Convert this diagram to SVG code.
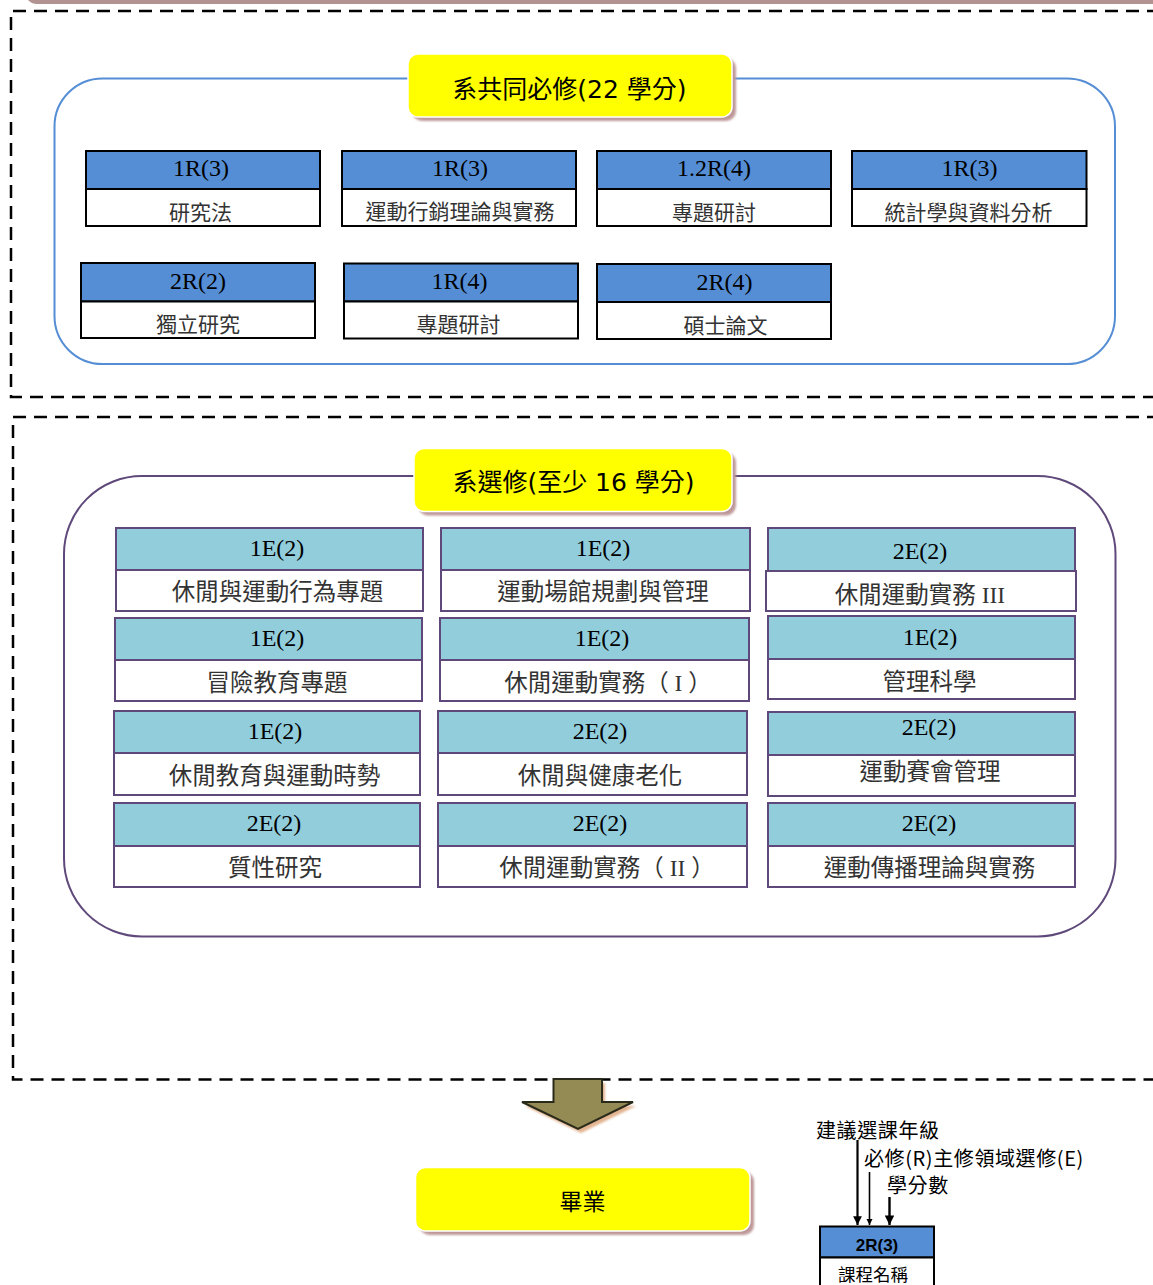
<svg xmlns="http://www.w3.org/2000/svg" width="1153" height="1285" viewBox="0 0 1153 1285">
<defs>
<style>
.dash{fill:none;stroke:#000;stroke-width:2.5;stroke-dasharray:13 8}
.hR{fill:#558ed5;stroke:#000;stroke-width:2}
.bR{fill:#fff;stroke:#000;stroke-width:2}
.hE{fill:#92cddc;stroke:#5f497a;stroke-width:2}
.bE{fill:#fff;stroke:#5f497a;stroke-width:2}
.code{font-family:"Liberation Serif","Noto Sans CJK TC",serif;font-size:24px;text-anchor:middle;fill:#000}
.nm{font-family:"Liberation Serif","Noto Sans CJK TC",serif;font-size:21px;text-anchor:middle;fill:#333}
.nmE{font-family:"Liberation Serif","Noto Sans CJK TC",serif;font-size:23.5px;text-anchor:middle;fill:#333}
.title{font-family:"DejaVu Sans","Noto Sans CJK TC",sans-serif;font-size:25px;text-anchor:middle;fill:#000}
.yel{fill:#ffff00;stroke:#fff;stroke-width:1.5}
.shd{fill:#bf9999}
.leg{font-family:"Noto Sans CJK TC","Noto Sans",sans-serif;font-size:20px;letter-spacing:0.6px;fill:#000}
</style>
<filter id="blur" x="-10%" y="-10%" width="120%" height="130%"><feGaussianBlur stdDeviation="1.2"/></filter>
<marker id="ah" viewBox="0 0 10 10" refX="10" refY="5" markerWidth="4" markerHeight="4" markerUnits="strokeWidth" orient="auto"><path d="M0,0 L10,5 L0,10 Z" fill="#000"/></marker>
</defs>
<rect width="1153" height="1285" fill="#fff"/>
<rect x="25" y="-50" width="1140" height="54" rx="12" fill="#b39292"/>

<g id="frames">
<path class="dash" d="M1160 11 H11 V397 H1160"/>
<path class="dash" d="M1160 417 H13 V1079.5 H1160"/>
<rect x="54.5" y="78.5" width="1060.5" height="285.5" rx="48" fill="none" stroke="#558ed5" stroke-width="2"/>
<rect x="64" y="476" width="1051.5" height="460.5" rx="78" fill="none" stroke="#5f497a" stroke-width="2"/>
</g>

<g id="title-required">
<rect class="shd" x="412" y="58" width="324" height="63" rx="10" filter="url(#blur)"/>
<rect class="yel" x="408" y="54" width="324" height="63" rx="10"/>
<text class="title" x="569.5" y="97.5">系共同必修(22 學分)</text>
</g>

<g id="r1">
<rect class="hR" x="86" y="151" width="234" height="38"/><rect class="bR" x="86" y="189" width="234" height="37"/>
<text class="code" x="201" y="176">1R(3)</text><text class="nm" x="200.5" y="220">研究法</text>
</g>
<g id="r2">
<rect class="hR" x="342" y="151" width="234" height="38"/><rect class="bR" x="342" y="189" width="234" height="37"/>
<text class="code" x="460" y="176">1R(3)</text><text class="nm" x="460" y="219">運動行銷理論與實務</text>
</g>
<g id="r3">
<rect class="hR" x="597" y="151" width="234" height="38"/><rect class="bR" x="597" y="189" width="234" height="37"/>
<text class="code" x="714" y="176">1.2R(4)</text><text class="nm" x="714" y="220">專題研討</text>
</g>
<g id="r4">
<rect class="hR" x="852" y="151" width="234.5" height="38"/><rect class="bR" x="852" y="189" width="234.5" height="37"/>
<text class="code" x="969.5" y="176">1R(3)</text><text class="nm" x="968.5" y="220">統計學與資料分析</text>
</g>
<g id="r5">
<rect class="hR" x="81" y="263" width="234" height="38.5"/><rect class="bR" x="81" y="301.5" width="234" height="36.5"/>
<text class="code" x="198" y="289">2R(2)</text><text class="nm" x="198" y="332">獨立研究</text>
</g>
<g id="r6">
<rect class="hR" x="344" y="263.5" width="234" height="38"/><rect class="bR" x="344" y="301.5" width="234" height="37"/>
<text class="code" x="459.5" y="289">1R(4)</text><text class="nm" x="458.5" y="332">專題研討</text>
</g>
<g id="r7">
<rect class="hR" x="597" y="264" width="234" height="38"/><rect class="bR" x="597" y="302" width="234" height="37"/>
<text class="code" x="724.5" y="290">2R(4)</text><text class="nm" x="725.5" y="333">碩士論文</text>
</g>

<g id="title-elective">
<rect class="shd" x="418" y="452.5" width="318" height="63" rx="10" filter="url(#blur)"/>
<rect class="yel" x="414" y="448.5" width="318" height="63" rx="10"/>
<text class="title" x="573.5" y="491">系選修(至少 16 學分)</text>
</g>

<g id="e1">
<rect class="hE" x="116" y="528" width="307" height="42"/><rect class="bE" x="116" y="570" width="307" height="41"/>
<text class="code" x="277" y="556">1E(2)</text><text class="nmE" x="277.5" y="600">休閒與運動行為專題</text>
</g>
<g id="e2">
<rect class="hE" x="441" y="528" width="309" height="42"/><rect class="bE" x="441" y="570" width="309" height="41"/>
<text class="code" x="603" y="556">1E(2)</text><text class="nmE" x="603" y="600">運動場館規劃與管理</text>
</g>
<g id="e3">
<rect class="hE" x="768" y="528" width="307" height="43"/><rect class="bE" x="766" y="571" width="310" height="40"/>
<text class="code" x="920" y="559">2E(2)</text><text class="nmE" x="920" y="603">休閒運動實務 III</text>
</g>
<g id="e4">
<rect class="hE" x="115" y="618" width="307" height="42"/><rect class="bE" x="115" y="660" width="307" height="41"/>
<text class="code" x="277" y="646">1E(2)</text><text class="nmE" x="277" y="691">冒險教育專題</text>
</g>
<g id="e5">
<rect class="hE" x="440" y="618" width="309" height="42"/><rect class="bE" x="440" y="660" width="309" height="41"/>
<text class="code" x="602" y="646">1E(2)</text><text class="nmE" x="608" y="691">休閒運動實務（ I ）</text>
</g>
<g id="e6">
<rect class="hE" x="768" y="616" width="307" height="43"/><rect class="bE" x="768" y="659" width="307" height="40"/>
<text class="code" x="930" y="645">1E(2)</text><text class="nmE" x="929.5" y="690">管理科學</text>
</g>
<g id="e7">
<rect class="hE" x="114" y="711" width="306" height="42"/><rect class="bE" x="114" y="753" width="306" height="42"/>
<text class="code" x="275" y="739">1E(2)</text><text class="nmE" x="274.5" y="784">休閒教育與運動時勢</text>
</g>
<g id="e8">
<rect class="hE" x="438" y="711" width="309" height="42"/><rect class="bE" x="438" y="753" width="309" height="42"/>
<text class="code" x="600" y="739">2E(2)</text><text class="nmE" x="600" y="784">休閒與健康老化</text>
</g>
<g id="e9">
<rect class="hE" x="768" y="712" width="307" height="43"/><rect class="bE" x="768" y="755" width="307" height="41"/>
<text class="code" x="929" y="735">2E(2)</text><text class="nmE" x="930" y="780">運動賽會管理</text>
</g>
<g id="e10">
<rect class="hE" x="114" y="803" width="306" height="43"/><rect class="bE" x="114" y="846" width="306" height="41"/>
<text class="code" x="274" y="831">2E(2)</text><text class="nmE" x="275" y="876">質性研究</text>
</g>
<g id="e11">
<rect class="hE" x="438" y="803" width="309" height="43"/><rect class="bE" x="438" y="846" width="309" height="41"/>
<text class="code" x="600" y="831">2E(2)</text><text class="nmE" x="607" y="876">休閒運動實務（ II ）</text>
</g>
<g id="e12">
<rect class="hE" x="768" y="803" width="307" height="43"/><rect class="bE" x="768" y="846" width="307" height="41"/>
<text class="code" x="929" y="831">2E(2)</text><text class="nmE" x="929.5" y="876">運動傳播理論與實務</text>
</g>

<g id="graduate">
<rect class="shd" x="419.5" y="1171.5" width="334.5" height="63.5" rx="10" filter="url(#blur)"/>
<rect class="yel" x="415.5" y="1167.5" width="334.5" height="63.5" rx="10"/>
<text x="582.5" y="1210" style="font-family:'Noto Sans CJK TC',sans-serif;font-size:23px;text-anchor:middle;fill:#000">畢業</text>
</g>

<g id="legend">
<text class="leg" x="816" y="1138">建議選課年級</text>
<text class="leg" x="864" y="1166">必修(R)主修領域選修(E)</text>
<text class="leg" x="887" y="1193">學分數</text>
<rect x="820" y="1226.5" width="114" height="31" fill="#558ed5" stroke="#000" stroke-width="2"/>
<rect x="820" y="1257.5" width="114" height="40" fill="#fff" stroke="#000" stroke-width="2"/>
<text x="877" y="1251" style="font-family:'Liberation Sans',sans-serif;font-weight:bold;font-size:17px;text-anchor:middle;fill:#000">2R(3)</text>
<text x="873" y="1281" style="font-family:'Noto Sans CJK TC',sans-serif;font-size:17.5px;text-anchor:middle;fill:#000">課程名稱</text>
</g>

<g id="connectors">
<polygon points="556.5,1083 605,1083 605,1106 636,1106 581,1133 525,1106 556.5,1106" fill="#e2b38f" filter="url(#blur)"/>
<polygon points="553.5,1079 602,1079 602,1102 633,1102 578,1129 522,1102 553.5,1102" fill="#948a54" stroke="#2a2a1a" stroke-width="2" stroke-linejoin="miter"/>
<line x1="857.5" y1="1140" x2="857.5" y2="1225" stroke="#000" stroke-width="2.2" marker-end="url(#ah)"/>
<line x1="869.5" y1="1172" x2="869.5" y2="1225" stroke="#000" stroke-width="1.6" marker-end="url(#ah)"/>
<line x1="889.5" y1="1197" x2="889.5" y2="1225" stroke="#000" stroke-width="2.4" marker-end="url(#ah)"/>
</g>
</svg>
